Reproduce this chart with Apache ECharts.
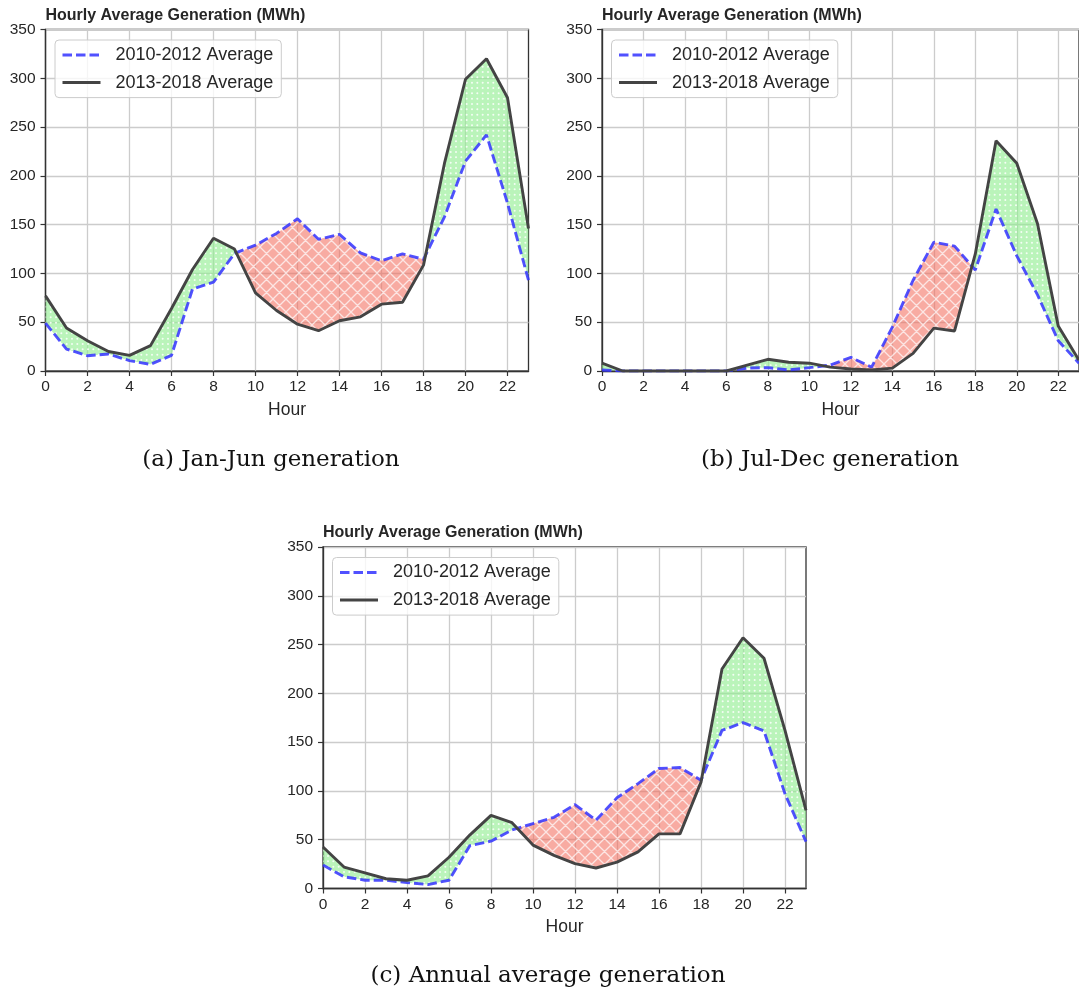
<!DOCTYPE html>
<html>
<head>
<meta charset="utf-8">
<script src="https://cdn.jsdelivr.net/npm/echarts@6/dist/echarts.min.js"></script>
<style>
  html, body { margin: 0; padding: 0; background: #fff; }
  #chart { width: 1079px; height: 992px; }
</style>
</head>
<body>
<div id="chart"></div>
<script>
// Data
const hours = [0, 1, 2, 3, 4, 5, 6, 7, 8, 9, 10, 11, 12, 13, 14, 15, 16, 17, 18, 19, 20, 21, 22, 23];
const xTicks = [0, 2, 4, 6, 8, 10, 12, 14, 16, 18, 20, 22];
const yTicks = [0, 50, 100, 150, 200, 250, 300, 350];

const janJunOld = [49, 22.5, 15.7, 17.4, 10.6, 6.8, 16, 84, 91, 120.5, 129, 141, 156, 135, 140, 121, 113, 120, 114.5, 158, 215, 242, 172, 93];
const janJunNew = [77, 44, 31, 20, 16, 26, 64, 104, 136, 125, 80, 62, 48, 41.3, 51.5, 55.5, 68.5, 70.5, 108.5, 213, 299, 320, 280, 146];

const julDecOld = [1, 0, 0, 0, 0, 0, 0, 3, 3.5, 1, 3.4, 6, 14, 4, 45, 93, 132, 128, 103.5, 166, 118, 78, 31, 8];
const julDecNew = [8, 0, 0, 0, 0, 0, 0, 6, 12, 9, 8, 4, 2, 1, 3, 18, 44, 41, 120, 236, 213, 151, 46, 11];

const annualOld = [24, 12, 8.5, 8.5, 6, 4, 8.5, 44, 48.5, 60, 66.5, 73, 86, 70, 93, 107.5, 123, 124, 111, 162, 170, 161.5, 97, 48];
const annualNew = [42.5, 22, 16, 10, 8.5, 13, 32, 55, 75, 67.5, 44.5, 34, 25.5, 21, 27, 37.5, 56, 56, 109, 225, 257, 236, 162, 80];

const seriesNames = ['2010-2012 Average', '2013-2018 Average'];
const titleText = 'Hourly Average Generation (MWh)';
const captions = ['(a) Jan-Jun generation', '(b) Jul-Dec generation', '(c) Annual average generation'];

// panel layout
const panels = [
  { oldVals: janJunOld, newVals: janJunNew, left: 45.5, top: 29.5, caption: [271, 460] },
  { oldVals: julDecOld, newVals: julDecNew, left: 602, top: 29.5, caption: [830, 460] },
  { oldVals: annualOld, newVals: annualNew, left: 323, top: 547, caption: [548, 976] }
];
const plotW = 483, plotH = 341.5;

const blue = 'rgba(51,51,255,0.85)';
const dark = '#444444';
const dash = [9.5, 4];

// fill patterns
function dotPattern() {
  const c = document.createElement('canvas');
  c.width = 16; c.height = 16;
  const g = c.getContext('2d');
  g.fillStyle = 'rgba(144,238,144,0.62)';
  g.fillRect(0, 0, 16, 16);
  g.fillStyle = 'rgba(255,255,255,0.85)';
  for (let i = 0; i < 3; i++) {
    for (let j = 0; j < 3; j++) {
      g.beginPath();
      g.arc(2.67 + i * 5.33, 2.67 + j * 5.33, 1.0, 0, Math.PI * 2);
      g.fill();
    }
  }
  return { image: c, repeat: 'repeat' };
}

function hatchPattern() {
  const s = 13;
  const c = document.createElement('canvas');
  c.width = s; c.height = s;
  const g = c.getContext('2d');
  g.fillStyle = 'rgba(242,105,90,0.56)';
  g.fillRect(0, 0, s, s);
  g.strokeStyle = 'rgba(255,255,255,0.7)';
  g.lineWidth = 1.3;
  g.beginPath();
  for (const k of [-s, 0, s]) {
    g.moveTo(k, 0); g.lineTo(k + s, s);
    g.moveTo(k + s, 0); g.lineTo(k, s);
  }
  g.stroke();
  return { image: c, repeat: 'repeat' };
}

const greenFill = dotPattern();
const redFill = hatchPattern();

// split the band between the two lines into regions where one stays on top
function splitRegions(xs, a, b) {
  const regions = [];
  let cur = null;
  for (let i = 0; i < xs.length; i++) {
    const d = b[i] - a[i];
    const up = d >= 0;
    if (cur && up !== cur.up) {
      const d0 = b[i - 1] - a[i - 1];
      const t = d0 / (d0 - d);
      const xc = xs[i - 1] + t * (xs[i] - xs[i - 1]);
      const yc = a[i - 1] + t * (a[i] - a[i - 1]);
      cur.A.push([xc, yc]); cur.B.push([xc, yc]);
      regions.push(cur);
      cur = { up: up, A: [[xc, yc]], B: [[xc, yc]] };
    }
    if (!cur) cur = { up: up, A: [], B: [] };
    cur.A.push([xs[i], a[i]]);
    cur.B.push([xs[i], b[i]]);
  }
  regions.push(cur);
  return regions.map(r => ({ up: r.up, pts: r.A.concat(r.B.slice().reverse()) }));
}

function fillRenderer(oldVals, newVals) {
  return function (params, api) {
    if (params.dataIndex !== 0) return null;
    const regions = splitRegions(hours, oldVals, newVals);
    return {
      type: 'group',
      children: regions.map(r => ({
        type: 'polygon',
        shape: { points: r.pts.map(p => api.coord(p)) },
        style: { fill: r.up ? greenFill : redFill, stroke: null }
      }))
    };
  };
}

const axisColor = '#333333';
const textColor = '#262626';
const gridColor = '#cccccc';
const noSymbol = { color: 'transparent', borderColor: 'transparent', borderWidth: 0, opacity: 0 };

const grid = [], xAxis = [], yAxis = [], series = [], legend = [], title = [], graphic = [];

panels.forEach((p, i) => {
  grid.push({
    left: p.left, top: p.top, width: plotW, height: plotH,
    show: true, borderColor: axisColor, borderWidth: 1.3, backgroundColor: '#ffffff'
  });
  xAxis.push({
    type: 'value', gridIndex: i, min: 0, max: 23, interval: 2,
    name: 'Hour', nameLocation: 'middle', nameGap: 30,
    nameTextStyle: { fontSize: 17.5, color: textColor },
    axisLine: { show: true, lineStyle: { color: axisColor, width: 1.3 } },
    axisTick: { show: true, length: 5, lineStyle: { color: axisColor, width: 1.2 }, customValues: xTicks },
    axisLabel: { fontSize: 15.5, color: textColor, margin: 8, customValues: xTicks },
    splitLine: { show: true, lineStyle: { color: gridColor, width: 1.3 } }
  });
  yAxis.push({
    type: 'value', gridIndex: i, min: 0, max: 350, interval: 50,
    axisLine: { show: true, lineStyle: { color: axisColor, width: 1.3 } },
    axisTick: { show: true, length: 5, lineStyle: { color: axisColor, width: 1.2 }, customValues: yTicks },
    axisLabel: { fontSize: 15.5, color: textColor, margin: 10, customValues: yTicks },
    splitLine: { show: true, lineStyle: { color: gridColor, width: 1.3 } }
  });
  series.push({
    type: 'custom', xAxisIndex: i, yAxisIndex: i, silent: true, clip: true,
    encode: { x: 0, y: [1, 2] },
    data: hours.map((h, k) => [h, p.oldVals[k], p.newVals[k]]),
    renderItem: fillRenderer(p.oldVals, p.newVals)
  });
  series.push({
    name: seriesNames[0], type: 'line', xAxisIndex: i, yAxisIndex: i,
    symbol: 'none', silent: true,
    data: hours.map((h, k) => [h, p.oldVals[k]]),
    lineStyle: { color: blue, width: 2.9, type: dash },
    itemStyle: { color: blue }
  });
  series.push({
    name: seriesNames[1], type: 'line', xAxisIndex: i, yAxisIndex: i,
    symbol: 'none', silent: true,
    data: hours.map((h, k) => [h, p.newVals[k]]),
    lineStyle: { color: dark, width: 2.9 },
    itemStyle: { color: dark }
  });
  legend.push({
    left: p.left + 9.5, top: p.top + 10.5, orient: 'vertical',
    itemWidth: 38, itemHeight: 14, itemGap: 7.6,
    padding: [5, 8, 5, 6],
    backgroundColor: 'rgba(255,255,255,0.8)',
    borderColor: '#cccccc', borderWidth: 1, borderRadius: 4,
    selectedMode: false,
    itemStyle: noSymbol,
    textStyle: { fontSize: 18, color: textColor, lineHeight: 20, padding: [0, 0, 0, 10] },
    data: [
      { name: seriesNames[0], itemStyle: noSymbol, lineStyle: { color: blue, width: 3, type: dash } },
      { name: seriesNames[1], itemStyle: noSymbol, lineStyle: { color: dark, width: 3, type: 'solid' } }
    ]
  });
  title.push({
    text: titleText, left: p.left, top: p.top - 22, padding: 0,
    textStyle: { fontSize: 16, fontWeight: 'bold', color: textColor }
  });
  graphic.push({
    type: 'text', x: p.caption[0], y: p.caption[1],
    style: {
      text: captions[i], font: '23px "DejaVu Serif", serif', fill: '#111111',
      align: 'center', verticalAlign: 'middle', textAlign: 'center', textVerticalAlign: 'middle'
    }
  });
});

const chart = echarts.init(document.getElementById('chart'));
chart.setOption({
  animation: false,
  backgroundColor: '#ffffff',
  textStyle: { fontFamily: '"Liberation Sans", Arial, sans-serif' },
  title: title,
  legend: legend,
  grid: grid,
  xAxis: xAxis,
  yAxis: yAxis,
  series: series,
  graphic: graphic
});
</script>
</body>
</html>
